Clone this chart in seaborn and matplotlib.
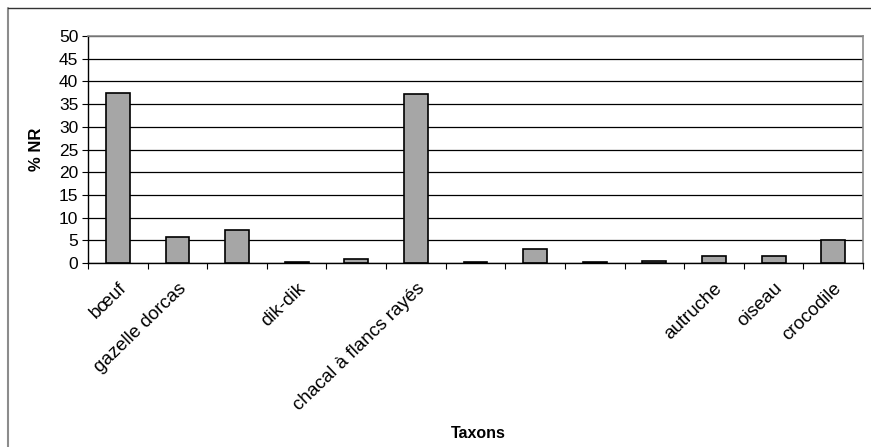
import pandas as pd
import seaborn as sns
import matplotlib
matplotlib.use("Agg")
from matplotlib import pyplot as plt
from matplotlib.lines import Line2D

# taxa (labels hidden by the original chart are left blank)
taxa = ["bœuf", "gazelle dorcas", "", "dik-dik", "", "chacal à flancs rayés",
        "", "", "", "", "autruche", "oiseau", "crocodile"]
pct_nr = [37.4, 5.8, 7.2, 0.2, 0.9, 37.2, 0.2, 3.0, 0.2, 0.5, 1.5, 1.6, 5.0]

df = pd.DataFrame({"pos": range(len(taxa)), "pct": pct_nr})

sns.set_theme(style="white")
plt.rcParams["font.family"] = ["Liberation Sans", "DejaVu Sans"]
plt.rcParams.update({"text.color": "black", "axes.labelcolor": "black",
                     "xtick.color": "black", "ytick.color": "black"})

fig = plt.figure(figsize=(8.71, 4.47), dpi=100)
ax = fig.add_axes([88 / 871, 1 - 263 / 447, (863 - 88) / 871, (263 - 36) / 447])

sns.barplot(x="pos", y="pct", data=df, ax=ax, color="#a6a6a6",
            edgecolor="black", linewidth=1.2, width=0.4, saturation=1)

ax.set_ylim(0, 50)
ax.set_xlim(-0.5, len(taxa) - 0.5)
ax.set_yticks(range(0, 51, 5))
ax.tick_params(axis="y", labelsize=12.5, length=4, width=0.8, direction="out",
               left=True, pad=3)
ax.yaxis.grid(True, color="black", linewidth=0.9)
ax.set_axisbelow(True)

# category boundaries carry the x tick marks
ax.set_xticks([i - 0.5 for i in range(len(taxa) + 1)], minor=False)
ax.set_xticklabels([])
ax.tick_params(axis="x", which="major", length=4, width=0.8, bottom=True,
               direction="out")
ax.set_xticks(range(len(taxa)), minor=True)
ax.set_xticklabels(taxa, minor=True, rotation=44, ha="right",
                   rotation_mode="anchor", fontsize=13.5)
ax.tick_params(axis="x", which="minor", length=0, pad=12)

ax.set_xlabel("Taxons", fontsize=11.5, fontweight="bold")
ax.xaxis.set_label_coords(0.504, -0.718)
ax.set_ylabel("% NR", fontsize=12, fontweight="bold")
ax.yaxis.set_label_coords(-0.057, 0.5)

for side in ["left", "bottom"]:
    ax.spines[side].set_color("black")
    ax.spines[side].set_linewidth(1)
for side in ["top", "right"]:
    ax.spines[side].set_color("#8c8c8c")
    ax.spines[side].set_linewidth(1.2)

# outer chart frame (only top and left edges visible in the original)
fig.add_artist(Line2D([8 / 871, 8 / 871], [0, 1 - 8 / 447], color="#8c8c8c",
                      linewidth=1.5, transform=fig.transFigure))
fig.add_artist(Line2D([8 / 871, 1], [1 - 8 / 447, 1 - 8 / 447], color="#333333",
                      linewidth=1, transform=fig.transFigure))

fig.savefig("out.png", dpi=100)
